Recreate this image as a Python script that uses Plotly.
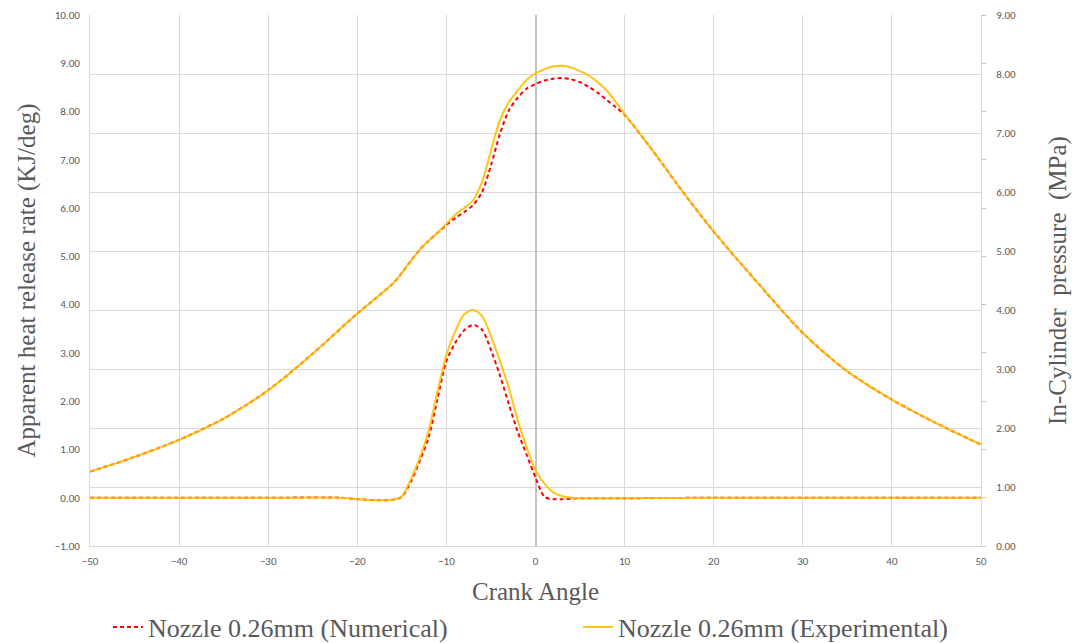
import plotly.graph_objects as go

# Heat release rate (KJ/deg), left axis
hrr_angle = [-50, -40, -30, -22, -20, -18, -16, -15, -14, -13, -12, -11, -10, -9, -8, -7,
             -6, -5, -4, -3, -2, -1, 0, 1, 2, 3, 4, 5, 10, 20, 30, 40, 50]
hrr_num = [0.0, 0.0, 0.0, 0.0, -0.03, -0.05, -0.04, 0.02, 0.33, 0.76, 1.25, 2.05, 2.83, 3.21, 3.47, 3.58,
           3.48, 3.06, 2.54, 1.94, 1.37, 0.89, 0.42, 0.02, -0.03, -0.03, -0.02, -0.01, -0.01, 0.0, 0.0, 0.0, 0.0]
hrr_exp = [0.0, 0.0, 0.0, 0.0, -0.03, -0.05, -0.04, 0.03, 0.38, 0.82, 1.38, 2.2, 2.96, 3.45, 3.8, 3.89,
           3.76, 3.35, 2.84, 2.28, 1.61, 1.05, 0.57, 0.29, 0.11, 0.03, 0.0, -0.01, -0.01, 0.0, 0.0, 0.0, 0.0]

# In-cylinder pressure (MPa), right axis
p_angle = [-50, -45, -40, -35, -30, -25, -20, -18, -16, -15, -14, -13, -12, -11, -10, -9, -8, -7, -6,
           -5, -4, -3, -2, -1, 0, 1, 2, 3, 4, 5, 6, 7, 8, 9, 10, 12, 14, 16, 20, 25, 30, 35, 40, 45, 50]
p_num = [1.26, 1.51, 1.80, 2.16, 2.64, 3.26, 3.94, 4.19, 4.45, 4.63, 4.83, 5.02, 5.17, 5.31, 5.44, 5.56, 5.66, 5.78, 6.00,
         6.45, 6.98, 7.38, 7.60, 7.75, 7.83, 7.89, 7.92, 7.93, 7.91, 7.86, 7.78, 7.68, 7.56, 7.44, 7.31,
         6.93, 6.53, 6.11, 5.33, 4.45, 3.61, 2.96, 2.48, 2.08, 1.72]
p_exp = [1.26, 1.51, 1.80, 2.16, 2.64, 3.26, 3.94, 4.19, 4.45, 4.63, 4.83, 5.02, 5.17, 5.31, 5.46, 5.62, 5.73, 5.86, 6.17,
         6.70, 7.22, 7.52, 7.72, 7.90, 8.01, 8.08, 8.13, 8.14, 8.11, 8.05, 7.97, 7.86, 7.72, 7.53, 7.32,
         6.93, 6.53, 6.11, 5.33, 4.45, 3.61, 2.96, 2.48, 2.08, 1.72]

RED = "#FF0000"
YEL = "#FFC000"
GRID = "#D9D9D9"
TXT = "#595959"
SERIF = "Liberation Serif, Times New Roman, serif"
SANS = "Carlito, Liberation Sans Narrow, Open Sans, sans-serif"
TFS = 25

fig = go.Figure()
fig.add_trace(go.Scatter(x=hrr_angle, y=hrr_num, mode="lines", name="Nozzle 0.26mm (Numerical)",
                         legend="legend", showlegend=True,
                         line=dict(color=RED, width=2, dash="4px,3px", shape="spline", smoothing=0.8), yaxis="y"))
fig.add_trace(go.Scatter(x=p_angle, y=p_num, mode="lines", name="Nozzle 0.26mm (Numerical)",
                         legend="legend", showlegend=False,
                         line=dict(color=RED, width=2, dash="4px,3px", shape="spline", smoothing=0.8), yaxis="y2"))
fig.add_trace(go.Scatter(x=hrr_angle, y=hrr_exp, mode="lines", name="Nozzle 0.26mm (Experimental)",
                         legend="legend2", showlegend=True, opacity=0.9,
                         line=dict(color=YEL, width=2, shape="spline", smoothing=0.8), yaxis="y"))
fig.add_trace(go.Scatter(x=p_angle, y=p_exp, mode="lines", name="Nozzle 0.26mm (Experimental)",
                         legend="legend2", showlegend=False, opacity=0.9,
                         line=dict(color=YEL, width=2, shape="spline", smoothing=0.8), yaxis="y2"))

legend_common = dict(orientation="h", xanchor="left", y=-0.1525, yanchor="middle",
                     font=dict(family=SERIF, size=26, color=TXT), itemwidth=30,
                     bgcolor="rgba(0,0,0,0)")

fig.update_layout(
    width=1081, height=643,
    margin=dict(l=90, r=100, t=15, b=97, autoexpand=False),
    paper_bgcolor="white", plot_bgcolor="white",
    font=dict(family=SANS, color=TXT, size=11),
    xaxis=dict(range=[-50, 50], dtick=10, tick0=-50, showgrid=True, gridcolor=GRID, gridwidth=1,
               zeroline=True, zerolinecolor="#C4C4C4", zerolinewidth=1.5,
               showline=True, linecolor=GRID, linewidth=1, ticks="", ticklabelstandoff=5,
               tickfont=dict(family=SANS, size=11, color=TXT),
               title=dict(text="Crank Angle", font=dict(family=SERIF, size=TFS, color=TXT), standoff=15)),
    yaxis=dict(range=[-1, 10], dtick=1, tick0=0, tickformat=".2f", showgrid=False, zeroline=False,
               showline=True, linecolor=GRID, linewidth=1, ticks="", ticklabelstandoff=7,
               tickfont=dict(family=SANS, size=11, color=TXT),
               title=dict(text="Apparent heat release rate (KJ/deg)",
                          font=dict(family=SERIF, size=TFS, color=TXT), standoff=11)),
    yaxis2=dict(range=[0, 9], dtick=1, tick0=0, tickformat=".2f", overlaying="y", side="right",
                showgrid=True, gridcolor=GRID, gridwidth=1, zeroline=False,
                showline=True, linecolor=GRID, linewidth=1, ticks="", ticklabelstandoff=12,
                tickfont=dict(family=SANS, size=11, color=TXT),
                title=dict(text="In-Cylinder\u00a0 pressure\u00a0 (MPa)",
                           font=dict(family=SERIF, size=TFS, color=TXT), standoff=33)),
    yaxis3=dict(range=[-1, 10], dtick=1, tick0=0, overlaying="y", side="right",
                showgrid=False, zeroline=False, showline=False, showticklabels=False,
                ticks="outside", ticklen=4, tickcolor="#BFBFBF", tickwidth=1),
    legend=dict(x=0.0202, **legend_common),
    legend2=dict(x=0.5477, **legend_common),
)
# dummy trace to render the third (tick-only) axis
fig.add_trace(go.Scatter(x=[None], y=[None], yaxis="y3", showlegend=False, hoverinfo="skip"))

fig.write_html("out.html")
